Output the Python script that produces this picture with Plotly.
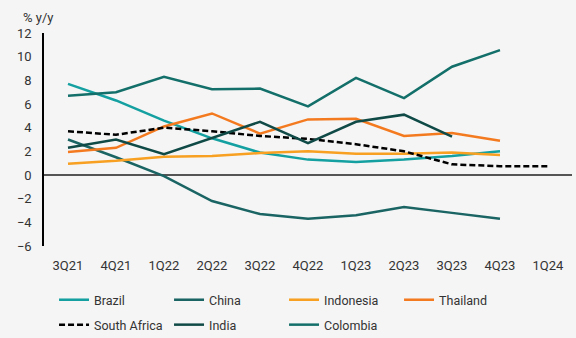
import plotly.graph_objects as go

quarters = ["3Q21", "4Q21", "1Q22", "2Q22", "3Q22", "4Q22", "1Q23", "2Q23", "3Q23", "4Q23", "1Q24"]

brazil = [7.7, 6.3, 4.6, 3.1, 1.9, 1.3, 1.1, 1.3, 1.6, 2.0, None]
china = [3.0, 1.5, -0.1, -2.2, -3.3, -3.7, -3.4, -2.7, -3.2, -3.7, None]
indonesia = [0.95, 1.2, 1.55, 1.6, 1.85, 2.0, 1.8, 1.8, 1.9, 1.7, None]
thailand = [1.95, 2.3, 4.1, 5.2, 3.5, 4.7, 4.75, 3.3, 3.55, 2.9, None]
south_africa = [3.7, 3.4, 4.0, 3.7, 3.3, 3.05, 2.6, 2.0, 0.9, 0.75, 0.75]
india = [2.3, 3.0, 1.75, 3.1, 4.5, 2.7, 4.5, 5.1, 3.25, None, None]
colombia = [6.7, 7.0, 8.3, 7.25, 7.3, 5.8, 8.2, 6.5, 9.15, 10.55, None]

# (name, values, colour, dash, legend row)
series = [
    ("Brazil", brazil, "#14a0a0", "solid", "legend"),
    ("China", china, "#1a6464", "solid", "legend"),
    ("Indonesia", indonesia, "#f7a021", "solid", "legend"),
    ("Thailand", thailand, "#f47a20", "solid", "legend"),
    ("South Africa", south_africa, "#000000", "6px,3px", "legend2"),
    ("India", india, "#0f4a47", "solid", "legend2"),
    ("Colombia", colombia, "#136f69", "solid", "legend2"),
]

fig = go.Figure()
for name, values, color, dash, leg in series:
    fig.add_trace(go.Scatter(
        x=quarters, y=values, name=name, mode="lines",
        line=dict(color=color, width=2.5, dash=dash),
        connectgaps=False, legend=leg,
    ))

tick_font = dict(family="Roboto, DejaVu Sans, sans-serif", size=13, color="#333333")
legend_font = dict(family="Roboto, sans-serif", size=12.5, color="#333333")

legend_common = dict(
    orientation="h", xanchor="left", yanchor="middle",
    entrywidth=70, entrywidthmode="pixels",
    font=legend_font, bgcolor="rgba(0,0,0,0)",
)

fig.update_layout(
    width=576, height=338,
    margin=dict(l=44, r=4, t=33, b=92, autoexpand=False),
    paper_bgcolor="#f5f5f5",
    plot_bgcolor="#f5f5f5",
    showlegend=True,
    legend=dict(x=0.019, y=-0.254, **legend_common),
    legend2=dict(x=0.019, y=-0.371, **legend_common),
    xaxis=dict(
        type="category",
        categoryorder="array", categoryarray=quarters,
        range=[-0.5, 10.5],
        showgrid=False, showline=False, ticks="",
        ticklabelstandoff=10,
        tickfont=tick_font,
        zeroline=False,
    ),
    yaxis=dict(
        range=[-6, 12],
        tickvals=[-6, -4, -2, 0, 2, 4, 6, 8, 10, 12],
        showgrid=False,
        showline=True, linecolor="#000000", linewidth=1.5,
        zeroline=True, zerolinecolor="#555555", zerolinewidth=1.5,
        ticks="", ticklabelstandoff=8,
        tickfont=tick_font,
    ),
)

fig.add_annotation(
    text="% y/y", xref="paper", yref="paper",
    x=-0.0436, y=1.03, xanchor="left", yanchor="bottom",
    showarrow=False,
    font=dict(family="Roboto, DejaVu Sans, sans-serif", size=13, color="#333333"),
)

fig.write_html("out.html")
